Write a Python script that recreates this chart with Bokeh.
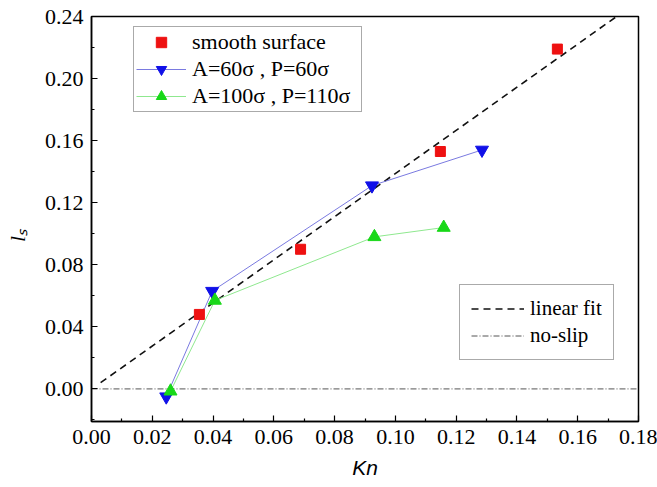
from bokeh.embed import file_html
from bokeh.models import (FixedTicker, Legend, LegendItem, NumeralTickFormatter,
                          Range1d)
from bokeh.plotting import figure
from bokeh.resources import INLINE

# Slip length l_s versus Knudsen number Kn
smooth_kn = [0.0355, 0.0688, 0.1148, 0.1533]
smooth_ls = [0.048, 0.090, 0.153, 0.219]

a60_kn = [0.0246, 0.0397, 0.0923, 0.1285]
a60_ls = [-0.005, 0.063, 0.131, 0.154]

a100_kn = [0.0260, 0.0406, 0.0931, 0.1159]
a100_ls = [-0.0015, 0.057, 0.098, 0.104]

# straight-line fit through the smooth-surface data
fit_kn = [0.003, 0.18]
fit_ls = [0.004, 0.250]

# no-slip reference (l_s = 0)
noslip_kn = [0.0, 0.18]
noslip_ls = [0.0, 0.0]

x_ticks = [0.00, 0.02, 0.04, 0.06, 0.08, 0.10, 0.12, 0.14, 0.16, 0.18]
x_minor = [0.01, 0.03, 0.05, 0.07, 0.09, 0.11, 0.13, 0.15, 0.17]
y_ticks = [0.00, 0.04, 0.08, 0.12, 0.16, 0.20, 0.24]
y_minor = [-0.02, 0.02, 0.06, 0.10, 0.14, 0.18, 0.22]

series_labels = ["smooth surface", "A=60σ , P=60σ", "A=100σ , P=110σ"]
line_labels = ["linear fit", "no-slip"]

SERIF = "Liberation Serif"
NBSP = "\u00a0"

p = figure(width=657, height=487, output_backend="svg", toolbar_location=None,
           x_range=Range1d(0.0, 0.18), y_range=Range1d(-0.021, 0.24),
           min_border_left=91, min_border_right=19, min_border_top=16,
           min_border_bottom=66)
p.background_fill_color = "white"
p.border_fill_color = "white"
p.outline_line_color = "black"
p.outline_line_width = 1.5
p.grid.visible = False

for ax in (p.xaxis[0], p.yaxis[0]):
    ax.axis_line_color = "black"
    ax.axis_line_width = 1.5
    ax.major_tick_in = 6
    ax.major_tick_out = 0
    ax.minor_tick_in = 3
    ax.minor_tick_out = 0
    ax.major_tick_line_width = 1.2
    ax.minor_tick_line_width = 1.2
    ax.major_label_text_font = SERIF
    ax.major_label_text_font_size = "22px"
    ax.major_label_text_color = "black"
    ax.major_label_standoff = 8
    ax.formatter = NumeralTickFormatter(format="0.00")

p.xaxis[0].ticker = FixedTicker(ticks=x_ticks, minor_ticks=x_minor)
p.yaxis[0].ticker = FixedTicker(ticks=y_ticks, minor_ticks=y_minor)

# axis titles
p.xaxis[0].axis_label = "Kn"
p.xaxis[0].axis_label_text_font = "Liberation Sans"
p.xaxis[0].axis_label_text_font_style = "italic"
p.xaxis[0].axis_label_text_font_size = "21px"
p.xaxis[0].axis_label_text_color = "black"
p.xaxis[0].axis_label_standoff = 9

# trailing no-break spaces push the short title down along the axis
p.yaxis[0].axis_label = "l\u209b" + NBSP * 6
p.yaxis[0].axis_label_text_font = SERIF
p.yaxis[0].axis_label_text_font_style = "italic"
p.yaxis[0].axis_label_text_font_size = "22px"
p.yaxis[0].axis_label_text_color = "black"
p.yaxis[0].axis_label_standoff = 12

# reference lines
r_noslip = p.line(noslip_kn, noslip_ls, line_color="#555555", line_width=1,
                  line_dash="6 2 1 2")
r_fit = p.line(fit_kn, fit_ls, line_color="#111111", line_width=1.6,
               line_dash="7 5")

# simulation series
r_a60_line = p.line(a60_kn, a60_ls, line_color="#7a7ae0", line_width=1)
r_a60_pts = p.scatter(a60_kn, a60_ls, marker="inverted_triangle", size=13,
                      fill_color="#1010e8", line_color="#1010e8")
r_a100_line = p.line(a100_kn, a100_ls, line_color="#8fe88f", line_width=1)
r_a100_pts = p.scatter(a100_kn, a100_ls, marker="triangle", size=13,
                       fill_color="#18d818", line_color="#18d818")
r_smooth = p.scatter(smooth_kn, smooth_ls, marker="square", size=10,
                     fill_color="#ee1111", line_color="#ee1111")

legend_style = dict(label_text_font=SERIF, label_text_color="black",
                    border_line_color="#555555", border_line_width=1,
                    background_fill_color="white", background_fill_alpha=1.0,
                    margin=0)

series_legend = Legend(
    items=[LegendItem(label=series_labels[0], renderers=[r_smooth]),
           LegendItem(label=series_labels[1], renderers=[r_a60_line, r_a60_pts]),
           LegendItem(label=series_labels[2], renderers=[r_a100_line, r_a100_pts])],
    location=(42, 309), glyph_width=50, glyph_height=26, label_height=26,
    label_width=167, label_standoff=6, spacing=1, padding=2,
    label_text_font_size="22px", **legend_style)

lines_legend = Legend(
    items=[LegendItem(label=line_labels[0], renderers=[r_fit]),
           LegendItem(label=line_labels[1], renderers=[r_noslip])],
    location=(368, 61), glyph_width=53, glyph_height=25, label_height=25,
    label_standoff=6, spacing=2, padding=11, label_text_font_size="21px",
    **legend_style)

p.add_layout(series_legend)
p.add_layout(lines_legend)

open("out.html", "w").write(file_html(p, INLINE))
